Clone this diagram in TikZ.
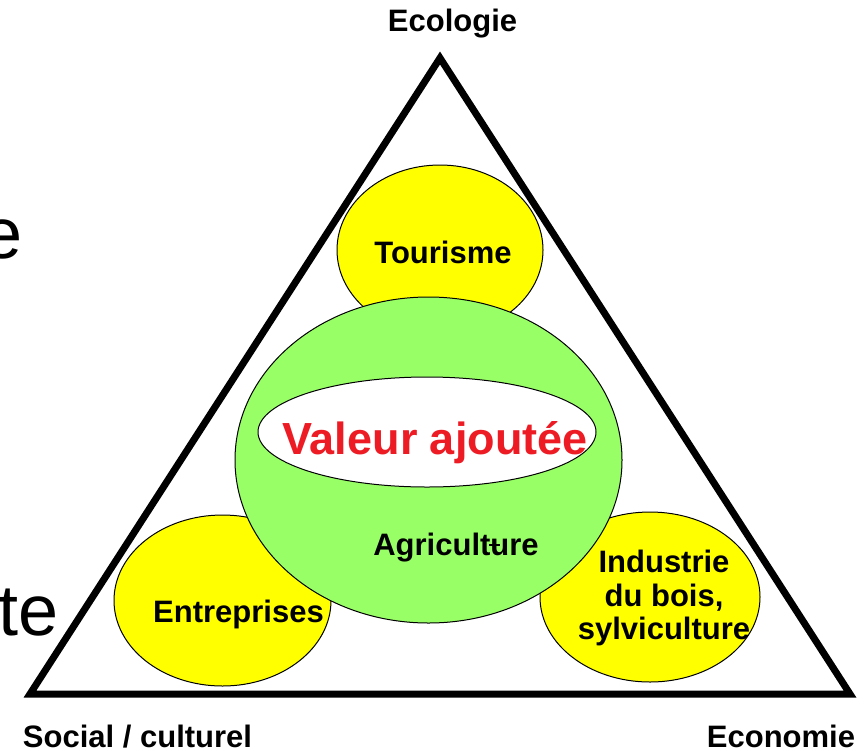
\documentclass[tikz,border=0pt]{standalone}
\usepackage{fontspec}
\setmainfont{Liberation Sans}
\usetikzlibrary{shapes.geometric}
\definecolor{ylw}{RGB}{255,255,0}
\definecolor{grn}{RGB}{153,255,102}
\definecolor{vred}{RGB}{237,28,36}
\tikzset{
  blob/.style={ellipse, draw=black, line width=1pt, inner sep=0pt},
  lbl/.style={inner sep=0pt, font=\bfseries\fontsize{31}{33.5}\selectfont, anchor=base},
  big/.style={inner sep=0pt, font=\fontsize{72}{80}\selectfont, anchor=base east},
  tri/.style={line width=7pt, line join=miter}
}
\begin{document}
\begin{tikzpicture}[x=1pt,y=-1pt]
\useasboundingbox (0,0) rectangle (866,750);
% left cut-off text
\node[big] (e1) at (23,258) {e};
\node[big] (e2) at (59,635) {nte};
% triangle
\coordinate (top) at (440,58);
\coordinate (bl) at (30,694);
\coordinate (br) at (850,694);
\draw[tri] (top) -- (bl) -- (br) -- cycle;
% yellow ellipses
\node[blob, fill=ylw, minimum width=206pt, minimum height=170pt] (tour) at (440,250) {};
\node[blob, fill=ylw, minimum width=217pt, minimum height=171pt] (entr) at (222.5,600.5) {};
\node[blob, fill=ylw, minimum width=220pt, minimum height=170pt] (indu) at (650,597) {};
% green ellipse
\node[blob, fill=grn, minimum width=387pt, minimum height=326pt] (agri) at (428.5,460) {};
% white ellipse
\node[blob, fill=white, minimum width=338pt, minimum height=110pt] (val) at (427,432) {};
% texts
\node[lbl] (ttour) at (443,263) {Tourisme};
\node[lbl] (tentr) at (238.5,622) {Entreprises};
\node[lbl, align=center, anchor=north] (tindu) at (664,550) {Industrie\\du bois,\\sylviculture};
\node[lbl] (tagri) at (456,555) {Agriculture};
\coordinate (m1) at (489,545);
\coordinate (m2) at (500,545);
\draw[line width=2.5pt] (m1) -- (m2);
\node[inner sep=0pt, anchor=base, text=vred, font=\bfseries\fontsize{45}{50}\selectfont] (tval) at (435,454) {Valeur ajoutée};
% corner labels
\node[lbl] (eco) at (452.5,31) {Ecologie};
\node[lbl] (soc) at (137.5,747) {Social / culturel};
\node[lbl] (econ) at (781,747) {Economie};
\end{tikzpicture}
\end{document}
